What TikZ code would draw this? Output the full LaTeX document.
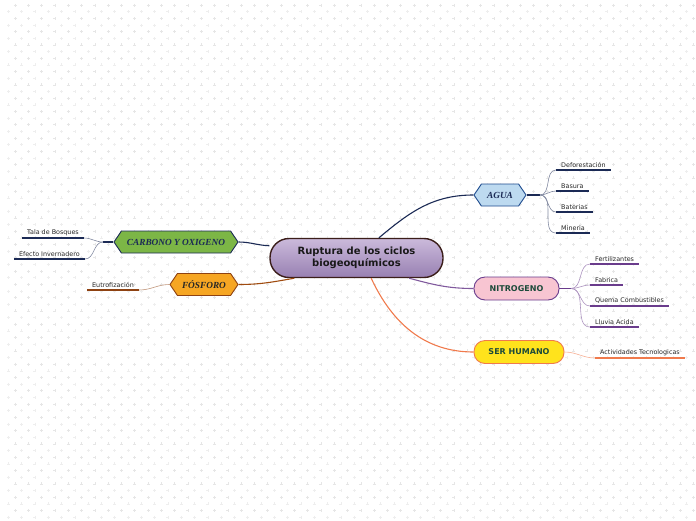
\documentclass[tikz,border=0pt]{standalone}
\usepackage{fontspec}
\setsansfont{DejaVu Sans}
\newfontfamily\branchserif{Liberation Serif}
\usetikzlibrary{shapes.symbols}
\definecolor{rootfilltop}{HTML}{CBBADB}
\definecolor{rootfillbot}{HTML}{9880B2}
\definecolor{rootline}{HTML}{3B1E1A}
\definecolor{navy}{HTML}{1B2A55}
\definecolor{aguafill}{HTML}{BDDAF0}
\definecolor{agualine}{HTML}{1F4C8F}
\definecolor{nitrofill}{HTML}{F8C5D2}
\definecolor{nitroline}{HTML}{6A3C8C}
\definecolor{humfill}{HTML}{FFE31C}
\definecolor{humline}{HTML}{F07A4C}
\definecolor{carbfill}{HTML}{7CB646}
\definecolor{fosfill}{HTML}{F6A623}
\definecolor{fosline}{HTML}{8E4212}
\definecolor{greentext}{HTML}{1C4A3A}
\definecolor{gridplus}{HTML}{E6E6E6}
\definecolor{gridplusb}{HTML}{EEEEEE}

\begin{document}
\begin{tikzpicture}[
  x=1pt, y=-1pt,
  every node/.style={font=\sffamily, text=black!85},
  root/.style={rectangle, rounded corners=19pt, draw=rootline, line width=1.4pt,
    top color=rootfilltop, bottom color=rootfillbot, minimum width=173pt, minimum height=39pt,
    align=center, font=\sffamily\bfseries\fontsize{10}{11.5}\selectfont, text=black!90},
  hexbranch/.style={signal, signal to=east and west, signal pointer angle=112, line width=0.9pt,
    minimum height=22pt, inner sep=1pt, font=\branchserif\bfseries\itshape\fontsize{9.3}{10}\selectfont},
  pillbranch/.style={rectangle, rounded corners=11pt, line width=0.9pt, minimum height=23pt,
    font=\sffamily\bfseries\fontsize{8}{9}\selectfont, text=greentext},
  leaf/.style={inner xsep=5pt, inner ysep=2pt, font=\sffamily\fontsize{6.4}{7}\selectfont, text=black!85},
  branchedge/.style={line width=1.1pt},
  fanedge/.style={line width=0.6pt},
  uline/.style={line width=1.6pt},
]
\useasboundingbox (0,0) rectangle (696,520);

% ---- background grid ----
\draw[gridplus, line width=0.6pt]
  \foreach \gx in {15,28.3,...,696} { \foreach \gy in {5,18.3,...,520} {
    (\gx,\gy) ++(-1.5,0) -- ++(3,0) ++(-1.5,-1.5) -- ++(0,3) } };
\draw[gridplusb, line width=0.6pt]
  \foreach \gx in {8.3,21.6,...,696} { \foreach \gy in {11.7,25,...,520} {
    (\gx,\gy) ++(-1.5,0) -- ++(3,0) ++(-1.5,-1.5) -- ++(0,3) } };

% ---- root ----
\node[root] (ruptura) at (356.5,258) {Ruptura de los ciclos\\biogeoquímicos};

% ---- branches ----
\node[hexbranch, fill=aguafill, draw=agualine, minimum width=52pt, text=navy] (agua) at (500,195) {AGUA};
\node[pillbranch, fill=nitrofill, draw=nitroline, minimum width=85pt] (nitro) at (516.5,288.5) {NITROGENO};
\node[pillbranch, fill=humfill, draw=humline, minimum width=90pt] (humano) at (519,352) {SER HUMANO};
\node[hexbranch, fill=carbfill, draw=navy, minimum width=124pt, text=navy] (carbono) at (176,242) {CARBONO Y OXIGENO};
\node[hexbranch, fill=fosfill, draw=fosline, minimum width=68pt, text=black!85] (fosforo) at (204,284.5) {FÓSFORO};

% ---- fan points ----
\coordinate (aguafan) at (540,195);
\coordinate (nitrofan) at (571,288.5);
\coordinate (carbfan) at (103,242);

% ---- leaves ----
\node[leaf, anchor=south west] (deforest) at (556,170) {Deforestación};
\node[leaf, anchor=south west] (basura)   at (556,191) {Basura};
\node[leaf, anchor=south west] (baterias) at (556,212) {Baterias};
\node[leaf, anchor=south west] (mineria)  at (556,233) {Mineria};

\node[leaf, anchor=south west] (fertil)   at (590,264) {Fertilizantes};
\node[leaf, anchor=south west] (fabrica)  at (590,285) {Fabrica};
\node[leaf, anchor=south west] (quema)    at (590,306) {Quema Combustibles};
\node[leaf, anchor=south west] (lluvia)   at (590,327) {Lluvia Acida};

\node[leaf, anchor=south west] (activ)    at (595,358) {Actividades Tecnologicas};

\node[leaf, anchor=south east] (tala)     at (84,238)  {Tala de Bosques};
\node[leaf, anchor=south east] (efecto)   at (85,259)  {Efecto Invernadero};

\node[leaf, anchor=south east] (eutro)    at (139,290) {Eutrofización};

% ---- root to branches ----
\draw[branchedge, navy] (ruptura.42) to[out=40, in=180] (agua.west);
\draw[branchedge, nitroline!85] (ruptura.-21) to[out=-15, in=180] (nitro.west);
\draw[branchedge, humline] (ruptura.-54) to[out=-65, in=180] (humano.west);
\draw[branchedge, navy] (ruptura.172) to[out=178, in=0] (carbono.east);
\draw[branchedge, fosline!85!orange] (ruptura.198) to[out=190, in=0] (fosforo.east);

% ---- branches to leaves ----
\draw[branchedge, navy] (agua.east) -- (aguafan);
\foreach \lf in {deforest, basura, baterias, mineria}
  \draw[fanedge, navy!55] (aguafan) to[out=0, in=180] (\lf.south west);
\foreach \lf in {deforest, basura, baterias, mineria}
  \draw[uline, navy] (\lf.south west) -- (\lf.south east);

\draw[branchedge, nitroline] (nitro.east) -- (nitrofan);
\foreach \lf in {fertil, fabrica, quema, lluvia}
  \draw[fanedge, nitroline!55] (nitrofan) to[out=0, in=180] (\lf.south west);
\foreach \lf in {fertil, fabrica, quema, lluvia}
  \draw[uline, nitroline] (\lf.south west) -- (\lf.south east);

\draw[fanedge, humline!60] (humano.east) to[out=0, in=180] (activ.south west);
\draw[uline, humline] (activ.south west) -- (activ.south east);

\draw[branchedge, navy] (carbono.west) -- (carbfan);
\foreach \lf in {tala, efecto}
  \draw[fanedge, navy!55] (carbfan) to[out=180, in=0] (\lf.south east);
\foreach \lf in {tala, efecto}
  \draw[uline, navy] (\lf.south west) -- (\lf.south east);

\draw[fanedge, fosline!55] (fosforo.west) to[out=180, in=0] (eutro.south east);
\draw[uline, fosline] (eutro.south west) -- (eutro.south east);

\end{tikzpicture}
\end{document}
